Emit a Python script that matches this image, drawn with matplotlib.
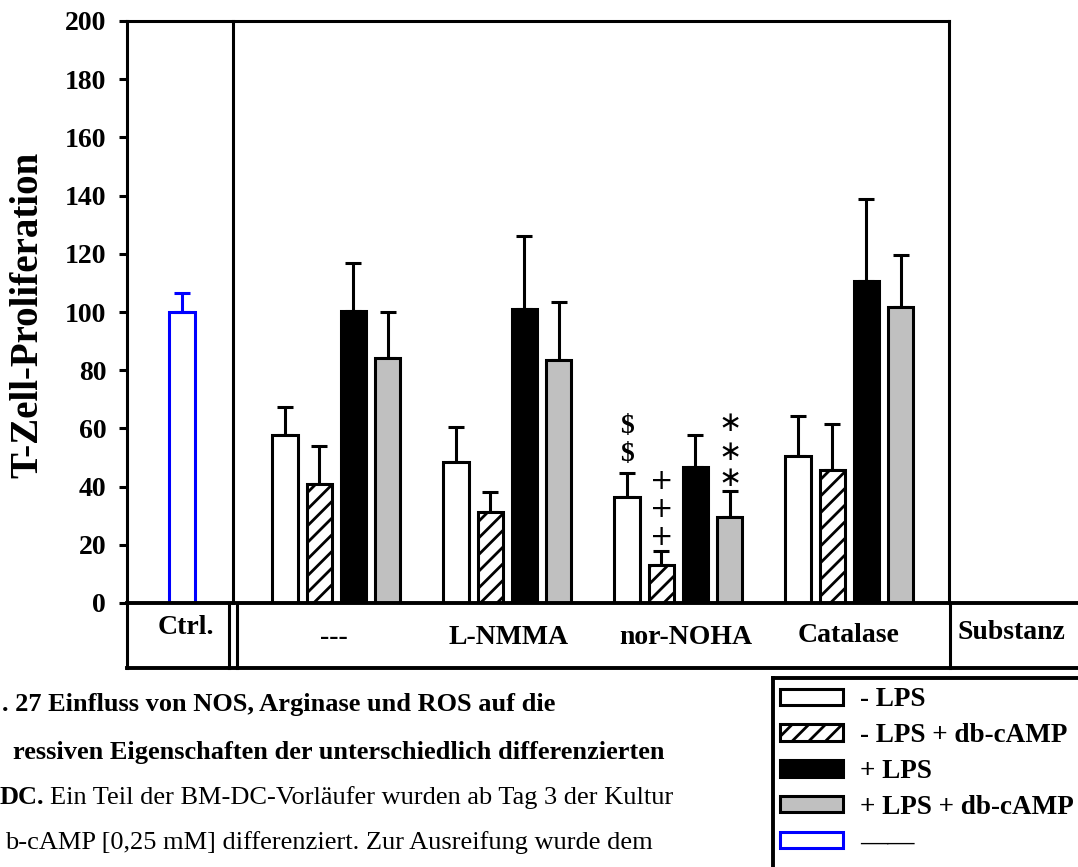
import numpy as np
import matplotlib.pyplot as plt
from matplotlib.patches import Patch
from matplotlib.lines import Line2D

# ===================== 字体 =====================
plt.rcParams['font.family'] = 'Liberation Serif'
plt.rcParams['font.weight'] = 'bold'
plt.rcParams['hatch.linewidth'] = 2.0

# ===================== 数据 =====================
ctrl_value = 100.0
ctrl_err = 6.5

categories = ['---', 'L-NMMA', 'nor-NOHA', 'Catalase']
series_labels = ['- LPS', '- LPS + db-cAMP', '+ LPS', '+ LPS + db-cAMP']

minus_lps = [57.7, 48.5, 36.4, 50.5]
minus_lps_err = [9.7, 12.0, 8.3, 13.8]
minus_lps_camp = [40.9, 31.3, 13.0, 45.7]
minus_lps_camp_err = [13.1, 6.7, 4.9, 15.8]
plus_lps = [100.3, 101.0, 46.8, 110.7]
plus_lps_err = [16.7, 25.0, 10.9, 28.1]
plus_lps_camp = [84.2, 83.5, 29.6, 101.7]
plus_lps_camp_err = [15.8, 20.0, 8.9, 17.9]

# Signifikanz-Zeichen: (Gruppe, Serie, Zeichen, y-Werte)
sig_marks = [
    (2, 0, '$', [60.5, 50.9]),
    (2, 1, '+', [41.9, 32.3, 22.7]),
    (2, 3, '\u2217', [61.9, 51.9, 43.0]),
]

caption_lines = [
    '. 27 Einfluss von NOS, Arginase und ROS auf die',
    'ressiven Eigenschaften der unterschiedlich differenzierten',
    'DC.',
    'Ein Teil der BM-DC-Vorläufer wurden ab Tag 3 der Kultur',
    'b-cAMP [0,25 mM] differenziert. Zur Ausreifung wurde dem',
]

# ===================== 绘图 =====================
W, H = 1078, 867
fig = plt.figure(figsize=(W / 100, H / 100), dpi=100)
ax = fig.add_axes([127 / W, (H - 603) / H, (W - 127) / W, (603 - 21) / H])

lw = 2.2
bar_w = 0.74
ctrl_x = 1.61
group_start = 4.62
x_right = 24.04
x_div = 3.1

ax.set_xlim(0, (W - 127) / 34.2)
ax.set_ylim(0, 200)

# Ctrl-Balken (blau)
ax.bar(ctrl_x, ctrl_value, bar_w, facecolor='white', edgecolor='blue', linewidth=lw)
ax.errorbar(ctrl_x, ctrl_value, yerr=[[0], [ctrl_err]], fmt='none', ecolor='blue',
            elinewidth=lw, capsize=6, capthick=lw)

series = [minus_lps, minus_lps_camp, plus_lps, plus_lps_camp]
errors = [minus_lps_err, minus_lps_camp_err, plus_lps_err, plus_lps_camp_err]
faces = ['white', 'white', 'black', '#c0c0c0']
hatches = [None, '//', None, None]

gx = group_start + 5 * np.arange(len(categories))
for i in range(4):
    xs = gx + i
    ax.bar(xs, series[i], bar_w, facecolor=faces[i], edgecolor='black',
           linewidth=lw, hatch=hatches[i], zorder=2)
    ax.errorbar(xs, series[i], yerr=[np.zeros(4), errors[i]], fmt='none',
                ecolor='black', elinewidth=lw, capsize=6, capthick=lw, zorder=1)

for g, s, ch, ys in sig_marks:
    for y in ys:
        if ch == '$':
            ax.text(gx[g] + s, y, ch, ha='center', va='center', fontsize=20)
        else:
            ax.text(gx[g] + s, y, ch, ha='center', va='center', fontsize=20,
                    family='DejaVu Sans', fontweight='normal')

# Achsen
for side in ['top', 'right']:
    ax.spines[side].set_visible(False)
ax.spines['left'].set_linewidth(lw)
ax.spines['bottom'].set_linewidth(lw + 0.6)
ax.set_xticks([])
ax.set_yticks(np.arange(0, 201, 20))
ax.tick_params(axis='y', direction='out', length=6, width=lw, labelsize=20, pad=9)

# Rahmen oben/rechts + Trennlinie
ax.plot([0, x_right], [200, 200], color='black', lw=lw, clip_on=False)
ax.plot([x_right, x_right], [0, 200], color='black', lw=lw, clip_on=False)
ax.plot([x_div, x_div], [0, 200], color='black', lw=lw, clip_on=False)

# Tabelle unter der Achse
y_tab = -22.3
xmax = (W - 127) / 34.2
ax.plot([0, xmax], [y_tab, y_tab], color='black', lw=lw + 0.6, clip_on=False)
ax.plot([0, 0], [0, y_tab], color='black', lw=lw, clip_on=False)
ax.plot([x_div - 0.12, x_div - 0.12], [0, y_tab], color='black', lw=lw, clip_on=False)
ax.plot([x_div + 0.12, x_div + 0.12], [0, y_tab], color='black', lw=lw, clip_on=False)
ax.plot([x_right + 0.03, x_right + 0.03], [0, y_tab], color='black', lw=lw, clip_on=False)

ax.text((186 - 127) / 34.2, -8.3, 'Ctrl.', ha='center', va='center', fontsize=20)
cat_px = [334, 509, 686, 849]
cat_py = [-11.7, -11.7, -11.7, -11.0]
for c, px, py in zip(categories, cat_px, cat_py):
    ax.text((px - 127) / 34.2, py, c, ha='center', va='center', fontsize=20)
ax.text((1011 - 127) / 34.2, -10.3, 'Substanz', ha='center', va='center', fontsize=20)

# Y-Beschriftung
fig.text(28 / W, 1 - 315 / H, 'T-Zell-Proliferation', rotation=90, ha='center',
         va='center', fontsize=28)

# Legende (Rahmen läuft über den Bildrand hinaus -> nur links und oben zeichnen)
handles = [Patch(facecolor=faces[i], edgecolor='black', hatch=hatches[i], linewidth=lw)
           for i in range(4)]
handles.append(Patch(facecolor='white', edgecolor='blue', linewidth=lw))
fig.legend(handles, series_labels + ['\u2014\u2014'], loc='upper left',
           bbox_to_anchor=(773 / W, 1 - 680 / H), borderaxespad=0,
           fontsize=19.5, handlelength=2.32, handleheight=0.55,
           handletextpad=0.63, labelspacing=0.4, borderpad=0.27,
           frameon=False)
fig.add_artist(Line2D([773 / W, 773 / W], [1 - 678 / H, 0], color='black',
                      lw=lw + 0.6, transform=fig.transFigure))
fig.add_artist(Line2D([773 / W, 1], [1 - 678 / H, 1 - 678 / H], color='black',
                      lw=lw + 0.6, transform=fig.transFigure))

# Bildunterschrift (abgeschnitten)
fs_cap = 19
fig.text(2 / W, 1 - 705 / H, caption_lines[0], ha='left', va='center', fontsize=fs_cap)
fig.text(13 / W, 1 - 752 / H, caption_lines[1], ha='left', va='center', fontsize=fs_cap)
fig.text(0 / W, 1 - 798 / H, caption_lines[2], ha='left', va='center', fontsize=fs_cap)
fig.text(50 / W, 1 - 798 / H, caption_lines[3], ha='left', va='center', fontsize=fs_cap,
         fontweight='normal')
fig.text(5 / W, 1 - 843 / H, caption_lines[4], ha='left', va='center', fontsize=fs_cap,
         fontweight='normal')

plt.savefig('out.png', dpi=100)
